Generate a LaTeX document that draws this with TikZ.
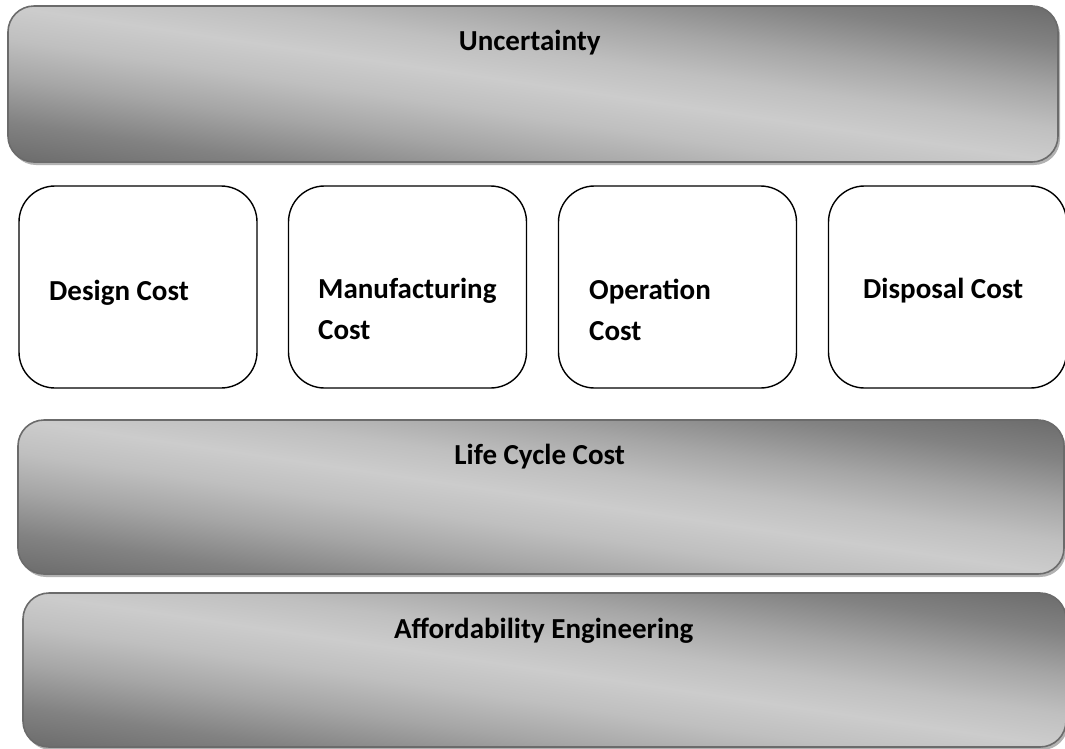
\documentclass[tikz,border=0pt]{standalone}
\usepackage{fontspec}
\setmainfont{Carlito}
\usetikzlibrary{positioning,shadows}

\pgfdeclareverticalshading{barshade}{100bp}{color(0bp)=(black!61); color(20bp)=(black!60); color(29bp)=(black!49); color(37bp)=(black!35); color(44bp)=(black!25); color(50bp)=(black!20); color(56bp)=(black!25); color(63bp)=(black!35); color(71bp)=(black!49); color(80bp)=(black!60); color(100bp)=(black!61)}

\tikzset{
  bar/.style={rectangle, rounded corners=26pt, draw=black!58, line width=1.6pt,
    shade, shading=barshade, shading angle=-8.4,
    drop shadow={shadow xshift=2pt, shadow yshift=-3pt, fill=black!30, opacity=1},
    inner sep=0pt},
  costbox/.style={rectangle, rounded corners=36pt, draw=black, line width=1.4pt, fill=white,
    minimum width=238pt, minimum height=202pt, inner sep=0pt},
  lbl/.style={font=\fontsize{29}{41}\selectfont\bfseries, inner sep=0pt, align=left},
}

\begin{document}
\begin{tikzpicture}[x=1pt,y=-1pt]

\useasboundingbox (0,0) rectangle (1065,748);
\clip (0,0) rectangle (1065,748);

%% Uncertainty on top
\node [bar, minimum width=1050pt, minimum height=156pt] (unc) at (533,84) {};
\node [lbl, anchor=base] (unctxt) at (533,50) { Uncertainty };

%% Cost items
\node [costbox] (design) at (138,287) {};
\node [costbox] (manuf) at (407.5,287) {};
\node [costbox] (oper) at (677.5,287) {};
\node [costbox] (disp) at (947.5,287) {};

\node [lbl, anchor=base west] (designtxt) at (49,300) { Design Cost };
\node [lbl, anchor=base west] (manuftxt) at (318,339) { Manufacturing\\Cost };
\node [lbl, anchor=base west] (opertxt) at (589,340) { Operation\\Cost };
\node [lbl, anchor=base west] (disptxt) at (863,298) { Disposal Cost };

%% Life cycle cost
\node [bar, minimum width=1046pt, minimum height=154pt] (lcc) at (541,497) {};
\node [lbl, anchor=base] (lcctxt) at (543,464) { Life Cycle Cost };

%% Affordability engineering
\node [bar, minimum width=1043pt, minimum height=154pt] (aff) at (544.5,670) {};
\node [lbl, anchor=base] (afftxt) at (547,638) { Affordability Engineering };

\end{tikzpicture}
\end{document}
